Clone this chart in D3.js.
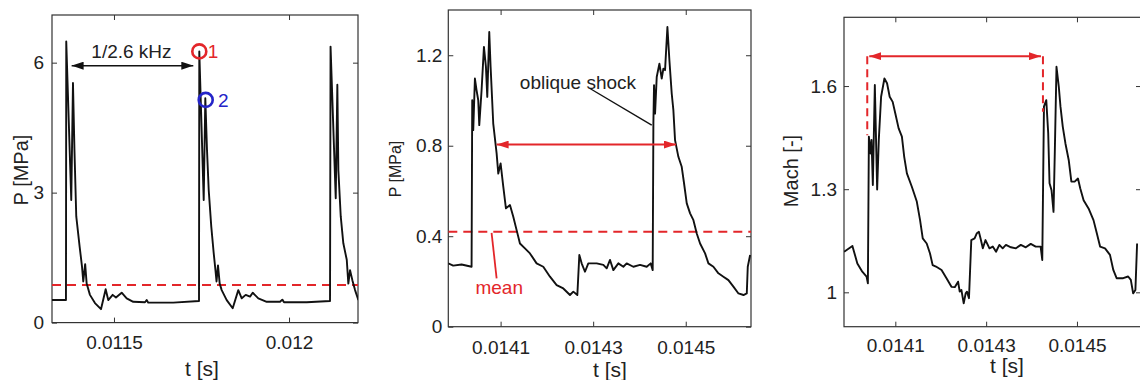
<!DOCTYPE html>
<html>
<head>
<meta charset="utf-8">
<script src="https://cdn.jsdelivr.net/npm/d3@7"></script>
<style>
  body { margin: 0; background: #fff; }
  text { font-family: "Liberation Sans", Arial, sans-serif; fill: #222; }
</style>
</head>
<body>
<script>
// panel A: wall pressure over three cycles [t (s), P (MPa)]
var pressureA = [
  [0.011323, 0.52], [0.0113629, 0.52], [0.0113637, 6.49], [0.011378, 2.83], [0.0113829, 5.53],
  [0.0113871, 3.99], [0.0113923, 2.45], [0.011402, 1.75], [0.0114086, 1.3], [0.0114123, 0.95],
  [0.0114177, 1.35], [0.011422, 0.9], [0.0114314, 0.64], [0.0114457, 0.45], [0.0114629, 0.31],
  [0.0114763, 0.77], [0.0114837, 0.52], [0.0114963, 0.64], [0.0115057, 0.58], [0.011522, 0.69],
  [0.0115363, 0.56], [0.0115551, 0.48], [0.0115886, 0.47], [0.0115934, 0.52], [0.011598, 0.46],
  [0.0116694, 0.46], [0.0117429, 0.5],
  [0.0117437, 6.26], [0.0117563, 2.83], [0.0117609, 5.18], [0.0117657, 3.99], [0.0117706, 3.06],
  [0.011778, 2.21], [0.0117849, 1.6], [0.01179, 1.2], [0.0117929, 0.95], [0.0117971, 1.32],
  [0.011802, 0.9], [0.0118077, 0.75], [0.011822, 0.52], [0.0118391, 0.33], [0.0118551, 0.75],
  [0.0118649, 0.56], [0.0118763, 0.64], [0.0118886, 0.6], [0.0118963, 0.69], [0.0119123, 0.56],
  [0.0119363, 0.48], [0.0119743, 0.48], [0.0119809, 0.53], [0.0119857, 0.47], [0.0120506, 0.47],
  [0.0121171, 0.5],
  [0.0121186, 6.37], [0.0121334, 2.87], [0.012138, 5.49], [0.0121409, 3.52], [0.0121477, 2.45],
  [0.0121551, 1.83], [0.0121649, 1.45], [0.0121694, 0.9], [0.0121743, 1.21], [0.0121809, 0.98],
  [0.0121886, 0.75], [0.012198, 0.52]
];

// panel B: pressure, zoomed [t (s), P (MPa)]
var pressureB = [
  [0.0139868, 0.28], [0.0139976, 0.27], [0.0140157, 0.275], [0.0140373, 0.265], [0.0140387, 1.001],
  [0.0140409, 0.869], [0.0140445, 1.097], [0.0140481, 1.045], [0.0140517, 1.001], [0.0140539, 0.891],
  [0.0140589, 1.045], [0.014064, 1.237], [0.0140683, 1.149], [0.0140712, 1.016], [0.0140755, 1.303],
  [0.0140784, 1.149], [0.0140841, 0.898], [0.0140914, 0.766], [0.014095, 0.677], [0.0141, 0.722],
  [0.0141058, 0.619], [0.0141115, 0.523], [0.0141202, 0.538], [0.0141274, 0.486], [0.0141346, 0.427],
  [0.0141418, 0.368], [0.0141526, 0.346], [0.0141634, 0.324], [0.0141778, 0.28], [0.0141922, 0.265],
  [0.0142067, 0.221], [0.0142211, 0.184], [0.0142355, 0.169], [0.0142499, 0.14], [0.0142571, 0.155],
  [0.0142658, 0.14], [0.0142701, 0.317], [0.0142751, 0.28], [0.0142823, 0.243], [0.0142895, 0.28],
  [0.0143076, 0.28], [0.014322, 0.273], [0.0143292, 0.258], [0.0143364, 0.295], [0.0143436, 0.25],
  [0.0143544, 0.28], [0.0143652, 0.265], [0.0143724, 0.28], [0.0143868, 0.265], [0.0144013, 0.273],
  [0.0144157, 0.265], [0.0144243, 0.28], [0.0144286, 0.25], [0.0144301, 0.898], [0.0144315, 1.068],
  [0.0144337, 0.942], [0.0144373, 1.104], [0.0144431, 1.163], [0.0144481, 1.097], [0.0144517, 1.141],
  [0.0144553, 1.134], [0.0144604, 1.325], [0.0144647, 1.178], [0.0144697, 1.031], [0.0144733, 0.957],
  [0.0144769, 0.825], [0.0144841, 0.751], [0.0144913, 0.707], [0.0144964, 0.633], [0.0145022, 0.545],
  [0.0145094, 0.501], [0.0145166, 0.471], [0.0145238, 0.412], [0.014531, 0.368], [0.0145418, 0.324],
  [0.014549, 0.28], [0.0145598, 0.265], [0.0145706, 0.236], [0.0145814, 0.221], [0.0145922, 0.206],
  [0.014603, 0.177], [0.0146139, 0.147], [0.0146247, 0.14], [0.0146319, 0.147], [0.014634, 0.265],
  [0.0146391, 0.317]
];

// panel C: Mach number [t (s), Mach]
var machC = [
  [0.0139873, 1.118], [0.0140055, 1.135], [0.0140164, 1.084], [0.0140273, 1.06], [0.0140367, 1.046],
  [0.0140396, 1.026], [0.0140418, 1.453], [0.0140455, 1.404], [0.0140476, 1.443], [0.0140505, 1.312],
  [0.0140549, 1.603], [0.01406, 1.299], [0.0140636, 1.443], [0.0140687, 1.569], [0.014076, 1.622],
  [0.0140818, 1.608], [0.0140876, 1.569], [0.0140942, 1.554], [0.0141, 1.52], [0.0141073, 1.477],
  [0.0141145, 1.453], [0.0141196, 1.394], [0.0141255, 1.346], [0.0141364, 1.307], [0.0141473, 1.264],
  [0.0141545, 1.21], [0.0141604, 1.157], [0.0141691, 1.142], [0.0141764, 1.113], [0.0141822, 1.079],
  [0.0141895, 1.075], [0.0142018, 1.065], [0.0142127, 1.041], [0.0142236, 1.016], [0.0142309, 1.015],
  [0.0142382, 1.031], [0.0142418, 1.002], [0.0142455, 1.007], [0.0142506, 0.968], [0.0142549, 0.997],
  [0.0142578, 1.002], [0.0142622, 0.983], [0.0142673, 1.152], [0.0142746, 1.157], [0.0142796, 1.172],
  [0.014284, 1.176], [0.0142876, 1.157], [0.0142927, 1.128], [0.0142986, 1.152], [0.0143073, 1.128],
  [0.0143146, 1.133], [0.0143218, 1.118], [0.0143291, 1.138], [0.0143364, 1.128], [0.0143436, 1.138],
  [0.0143546, 1.131], [0.0143655, 1.128], [0.0143764, 1.138], [0.0143873, 1.131], [0.0143982, 1.141],
  [0.0144091, 1.133], [0.01442, 1.133], [0.0144236, 1.094], [0.0144273, 1.54], [0.0144324, 1.559],
  [0.0144367, 1.462], [0.0144396, 1.317], [0.014444, 1.297], [0.0144484, 1.234], [0.0144513, 1.414],
  [0.0144549, 1.656], [0.01446, 1.598], [0.0144637, 1.54], [0.0144687, 1.482], [0.0144746, 1.433],
  [0.0144818, 1.385], [0.0144877, 1.322], [0.0144949, 1.322], [0.0145022, 1.331], [0.0145073, 1.302],
  [0.0145146, 1.268], [0.0145255, 1.244], [0.0145364, 1.21], [0.0145437, 1.172], [0.0145509, 1.133],
  [0.0145618, 1.128], [0.0145727, 1.109], [0.01458, 1.065], [0.0145873, 1.041], [0.0146018, 1.041],
  [0.0146127, 1.046], [0.0146186, 1.036], [0.0146237, 0.997], [0.0146287, 1.007], [0.0146324, 1.142]
];

var ticksXA = [0.0115, 0.012];
var ticksYA = [0, 3, 6];
var ticksXB = [0.0141, 0.0143, 0.0145];
var ticksYB = [0, 0.4, 0.8, 1.2];
var ticksYC = [1, 1.3, 1.6];

var meanA = 0.87;
var meanB = 0.42;

var red = "#e3262a", blue = "#2424c8";

var svg = d3.select("body").append("svg").attr("width", 1140).attr("height", 380);
var defs = svg.append("defs");
[["headBlack", "#111"], ["headRed", red]].forEach(function (m) {
    defs.append("marker").attr("id", m[0])
        .attr("markerUnits", "userSpaceOnUse")
        .attr("markerWidth", 12).attr("markerHeight", 8)
        .attr("refX", 12).attr("refY", 4)
        .attr("orient", "auto-start-reverse")
        .append("path").attr("d", "M0,0 L12,4 L0,8 z").attr("fill", m[1]);
});

function drawPanel(o) {
    var x = d3.scaleLinear().domain(o.xDomain).range([o.left, o.right]);
    var y = d3.scaleLinear().domain(o.yDomain).range([o.bottom, o.top]);
    var g = svg.append("g");
    var fmtX = d3.format(".4~f"), fmtY = d3.format("~g");

    var bottom = g.append("g").attr("transform", "translate(0," + o.bottom + ")")
        .call(d3.axisBottom(x).tickValues(o.xTicks).tickFormat(fmtX).tickSizeInner(-5).tickSizeOuter(0).tickPadding(o.xPad));
    var top = g.append("g").attr("transform", "translate(0," + o.top + ")")
        .call(d3.axisTop(x).tickValues(o.xTicks).tickFormat("").tickSizeInner(-5).tickSizeOuter(0));
    var left = g.append("g").attr("transform", "translate(" + o.left + ",0)")
        .call(d3.axisLeft(y).tickValues(o.yTicks).tickFormat(fmtY).tickSizeInner(-5).tickSizeOuter(0).tickPadding(o.yPad));
    var right = g.append("g").attr("transform", "translate(" + o.right + ",0)")
        .call(d3.axisRight(y).tickValues(o.yTicks).tickFormat("").tickSizeInner(-5).tickSizeOuter(0));
    [bottom, top, left, right].forEach(function (a) {
        a.select(".domain").remove();
        a.selectAll("line").attr("stroke", "#333");
        a.selectAll("text").style("font-size", "19px").attr("fill", "#222");
    });

    g.append("rect").attr("x", o.left).attr("y", o.top)
        .attr("width", o.right - o.left).attr("height", o.bottom - o.top)
        .attr("fill", "none").attr("stroke", "#333").attr("stroke-width", 1.2);

    var clipId = "clip" + o.id;
    defs.append("clipPath").attr("id", clipId).append("rect")
        .attr("x", o.left).attr("y", o.top).attr("width", o.right - o.left).attr("height", o.bottom - o.top);

    var plot = g.append("g").attr("clip-path", "url(#" + clipId + ")");
    if (o.mean !== undefined) {
        plot.append("line").attr("x1", o.left).attr("x2", o.right)
            .attr("y1", y(o.mean)).attr("y2", y(o.mean))
            .attr("stroke", red).attr("stroke-width", 2).attr("stroke-dasharray", "9,6");
    }
    plot.append("path").datum(o.data)
        .attr("d", d3.line().x(function (d) { return x(d[0]); }).y(function (d) { return y(d[1]); }))
        .attr("fill", "none").attr("stroke", "#111").attr("stroke-width", 1.9).attr("stroke-linejoin", "round");

    g.append("text").attr("x", o.xLabelPos[0]).attr("y", o.xLabelPos[1])
        .attr("text-anchor", "middle").style("font-size", "21px").text("t [s]");
    g.append("text").attr("transform", "translate(" + o.yLabelPos[0] + "," + o.yLabelPos[1] + ") rotate(-90)")
        .attr("text-anchor", "middle").attr("dy", "0.35em").style("font-size", o.yLabelSize + "px").text(o.yLabel);

    return { x: x, y: y, g: g };
}

// panel A
var A = drawPanel({
    id: "A", left: 52, right: 358, top: 15, bottom: 322.6,
    xDomain: [0.011323, 0.012197], yDomain: [0, 7.1],
    xTicks: ticksXA, yTicks: ticksYA, xPad: 13, yPad: 8,
    data: pressureA, mean: meanA,
    xLabelPos: [202, 376], yLabelPos: [21, 170], yLabel: "P [MPa]", yLabelSize: 20
});
A.g.append("line")
    .attr("x1", A.x(0.0113791)).attr("x2", A.x(0.0117266))
    .attr("y1", A.y(5.93)).attr("y2", A.y(5.93))
    .attr("stroke", "#111").attr("stroke-width", 1.6)
    .attr("marker-start", "url(#headBlack)").attr("marker-end", "url(#headBlack)");
A.g.append("text").attr("x", A.x(0.01155)).attr("y", A.y(6.26)).attr("dy", "0.35em")
    .attr("text-anchor", "middle").style("font-size", "19px").text("1/2.6 kHz");
A.g.append("circle").attr("cx", A.x(0.0117437)).attr("cy", A.y(6.26)).attr("r", 7)
    .attr("fill", "none").attr("stroke", red).attr("stroke-width", 2.6);
A.g.append("text").attr("x", A.x(0.0117829)).attr("y", A.y(6.26)).attr("dy", "0.36em")
    .attr("text-anchor", "middle").style("font-size", "19px").style("fill", red).text("1");
A.g.append("circle").attr("cx", A.x(0.011762)).attr("cy", A.y(5.14)).attr("r", 7)
    .attr("fill", "none").attr("stroke", blue).attr("stroke-width", 2.6);
A.g.append("text").attr("x", A.x(0.0118123)).attr("y", A.y(5.14)).attr("dy", "0.36em")
    .attr("text-anchor", "middle").style("font-size", "19px").style("fill", blue).text("2");

// panel B
var B = drawPanel({
    id: "B", left: 448.3, right: 751, top: 10, bottom: 326.7,
    xDomain: [0.013987, 0.014641], yDomain: [0, 1.4],
    xTicks: ticksXB, yTicks: ticksYB, xPad: 14, yPad: 6,
    data: pressureB, mean: meanB,
    xLabelPos: [610, 377], yLabelPos: [395, 169], yLabel: "P [MPa]", yLabelSize: 16
});
B.g.append("line")
    .attr("x1", B.x(0.0140914)).attr("x2", B.x(0.014479))
    .attr("y1", B.y(0.805)).attr("y2", B.y(0.805))
    .attr("stroke", red).attr("stroke-width", 2)
    .attr("marker-start", "url(#headRed)").attr("marker-end", "url(#headRed)");
B.g.append("text").attr("x", B.x(0.0142671)).attr("y", B.y(1.082)).attr("dy", "0.35em")
    .attr("text-anchor", "middle").style("font-size", "19px").text("oblique shock");
B.g.append("line")
    .attr("x1", B.x(0.0142931)).attr("y1", B.y(1.053))
    .attr("x2", B.x(0.0144265)).attr("y2", B.y(0.891))
    .attr("stroke", "#111").attr("stroke-width", 1.4);
B.g.append("line")
    .attr("x1", B.x(0.0140805)).attr("y1", B.y(0.415))
    .attr("x2", B.x(0.0140914)).attr("y2", B.y(0.214))
    .attr("stroke", red).attr("stroke-width", 1.8);
B.g.append("text").attr("x", B.x(0.014097)).attr("y", B.y(0.174)).attr("dy", "0.35em")
    .attr("text-anchor", "middle").style("font-size", "19px").style("fill", red).text("mean");

// panel C
var C = drawPanel({
    id: "C", left: 844, right: 1141, top: 17.3, bottom: 326.7,
    xDomain: [0.013987, 0.014641], yDomain: [0.9, 1.8],
    xTicks: ticksXB, yTicks: ticksYC, xPad: 12, yPad: 7,
    data: machC,
    xLabelPos: [1007, 373], yLabelPos: [791, 171], yLabel: "Mach [-]", yLabelSize: 20
});
[[0.0140382, 1.457], [0.0144251, 1.525]].forEach(function (d) {
    C.g.append("line")
        .attr("x1", C.x(d[0])).attr("x2", C.x(d[0]))
        .attr("y1", C.y(1.687)).attr("y2", C.y(d[1]))
        .attr("stroke", red).attr("stroke-width", 2).attr("stroke-dasharray", "8,5");
});
C.g.append("line")
    .attr("x1", C.x(0.0140382) + 2).attr("x2", C.x(0.0144251) - 2)
    .attr("y1", C.y(1.687)).attr("y2", C.y(1.687))
    .attr("stroke", red).attr("stroke-width", 2)
    .attr("marker-start", "url(#headRed)").attr("marker-end", "url(#headRed)");
</script>
</body>
</html>
